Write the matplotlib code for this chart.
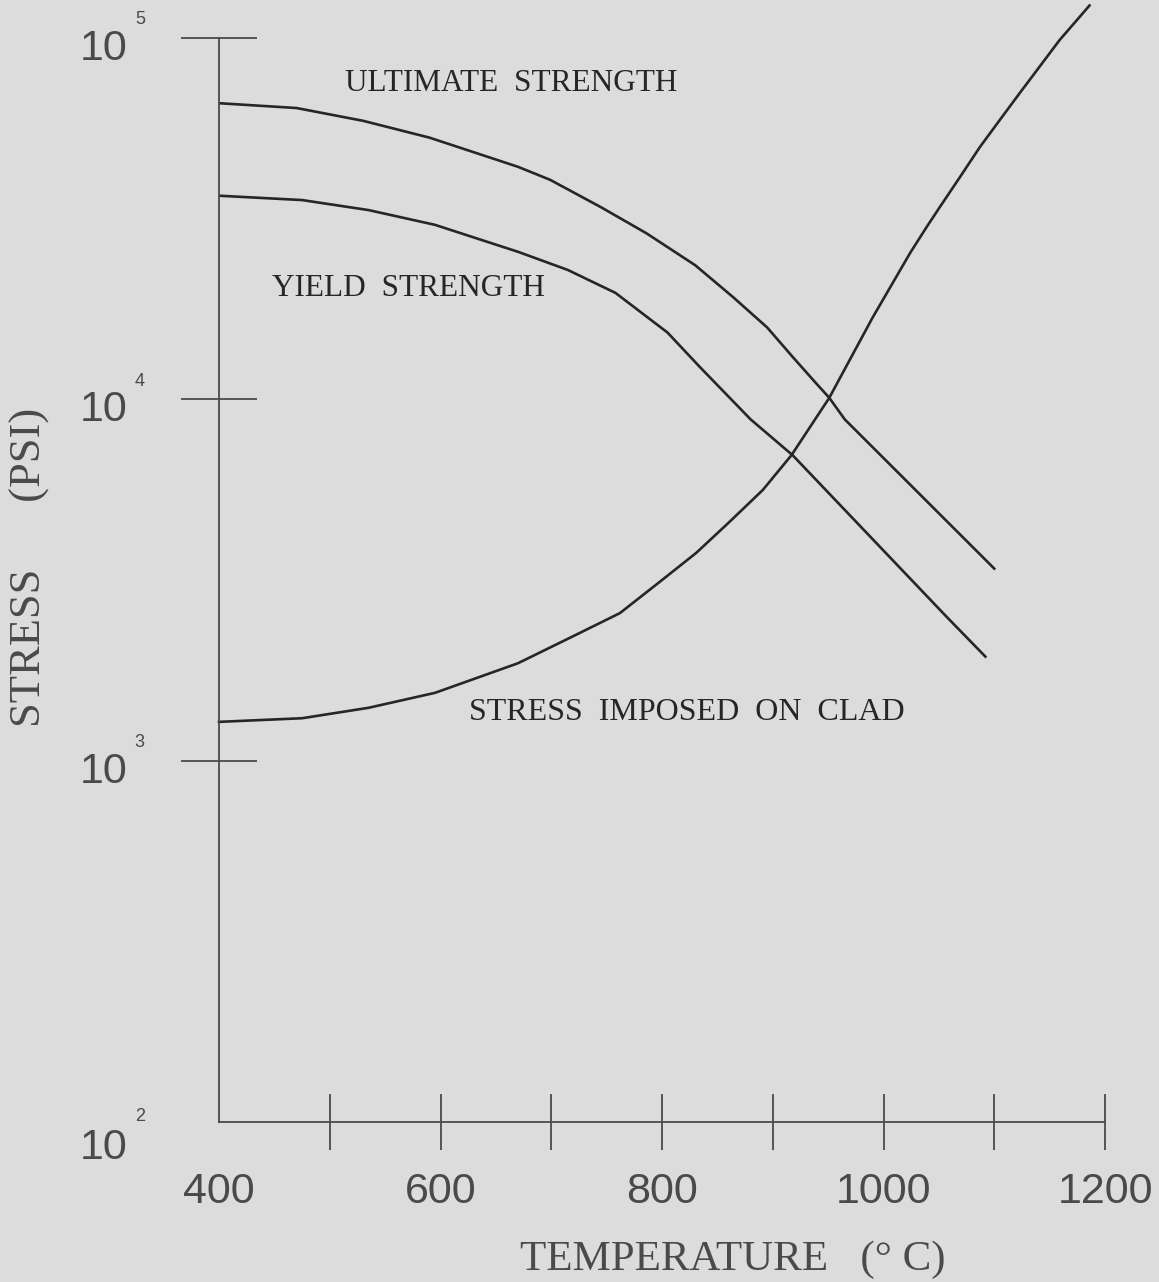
import matplotlib
matplotlib.use("Agg")
import matplotlib.pyplot as plt
import numpy as np

# temperature (deg C) and stress (psi) along each curve
ult_temp = [400, 470, 530, 590, 670, 699, 745, 786, 830, 864, 895, 918, 940, 951, 965, 1100]
ult_psi = [66000, 64000, 59000, 53000, 44000, 40500, 34000, 28800, 23500, 19200, 15800,
           13100, 11000, 10100, 8800, 3400]

yld_temp = [400, 475, 535, 595, 670, 715, 758, 805, 834, 880, 918, 1057, 1092]
yld_psi = [36600, 35600, 33400, 30400, 25600, 22800, 19700, 15300, 12300,
           8800, 7000, 2500, 1940]

clad_temp = [400, 475, 535, 595, 670, 725, 762, 800, 831, 860, 891, 917, 951, 990,
             1024, 1039, 1051, 1069, 1087, 1105, 1123, 1159, 1186]
clad_psi = [1280, 1310, 1400, 1540, 1860, 2250, 2560, 3160, 3760, 4550, 5610, 7010,
            10090, 16800, 25400, 30000, 34100, 41200, 49900, 59300, 70400, 98700, 123000]

x_ticks = [500, 600, 700, 800, 900, 1000, 1100, 1200]
x_labels = [400, 600, 800, 1000, 1200]
decades = [2, 3, 4, 5]

bg = "#dcdcdc"
ink = "#262626"
grey = "#4a4a4a"

fig = plt.figure(figsize=(11.59, 12.82), dpi=100, facecolor=bg)
ax = fig.add_axes([0.18896, 0.12488, 0.76445, 0.84548])
ax.set_facecolor(bg)

ax.plot(ult_temp, ult_psi, color=ink, lw=1.9)
ax.plot(yld_temp, yld_psi, color=ink, lw=1.9)
ax.plot(clad_temp, clad_psi, color=ink, lw=1.9, clip_on=False)

ax.set_yscale("log")
ax.set_xlim(400, 1200)
ax.set_ylim(1e2, 1e5)

for s in ["top", "right"]:
    ax.spines[s].set_visible(False)
for s in ["left", "bottom"]:
    ax.spines[s].set_color(grey)
    ax.spines[s].set_linewidth(1.3)

# crossing tick marks every 100 deg, labels every 200 deg
ax.xaxis.remove_overlapping_locs = False
ax.set_xticks(x_ticks)
ax.set_xticklabels([])
ax.tick_params(axis="x", which="major", direction="inout", length=41, width=1.3, color=grey)
ax.set_xticks(x_labels, minor=True)
ax.set_xticklabels([str(v) for v in x_labels], minor=True)
ax.tick_params(axis="x", which="minor", length=0, pad=36, labelsize=31, labelcolor=grey)
for lab in ax.get_xticklabels(minor=True):
    lab.set_family("Liberation Sans")

ax.set_yticks([1e3, 1e4, 1e5])
ax.set_yticklabels([])
ax.yaxis.set_minor_locator(matplotlib.ticker.NullLocator())
ax.tick_params(axis="y", which="major", direction="inout", length=55, width=1.3, color=grey)

# power-of-ten labels drawn as base plus raised exponent
for d in decades:
    base_dy = -19 if d == 2 else -8
    exp_dy = 4 if d == 2 else 13
    ax.annotate("10", xy=(0, 10.0 ** d), xycoords=("axes fraction", "data"),
                xytext=(-83, base_dy), textcoords="offset points",
                ha="center", va="center", fontsize=31, color=grey,
                family="Liberation Sans", annotation_clip=False)
    ax.annotate(str(d), xy=(0, 10.0 ** d), xycoords=("axes fraction", "data"),
                xytext=(-57, exp_dy), textcoords="offset points",
                ha="center", va="center", fontsize=13, color=grey,
                family="Liberation Sans", annotation_clip=False)

# curve labels
ax.text(514, 74600, "ULTIMATE  STRENGTH", fontsize=22.5, family="Liberation Serif",
        color=ink, ha="left", va="center")
ax.text(448, 20200, "YIELD  STRENGTH", fontsize=22.5, family="Liberation Serif",
        color=ink, ha="left", va="center")
ax.text(626, 1355, "STRESS  IMPOSED  ON  CLAD", fontsize=23, family="Liberation Serif",
        color=ink, ha="left", va="center")

fig.text(30 / 1159, 1 - 567 / 1282, "STRESS      (PSI)", rotation=90, fontsize=32,
         family="Liberation Serif", color=grey, ha="center", va="center")
fig.text(733 / 1159, 1 - 1260 / 1282, "TEMPERATURE   (° C)", fontsize=31,
         family="Liberation Serif", color=grey, ha="center", va="center")

fig.savefig("out.png", dpi=100, facecolor=bg)
